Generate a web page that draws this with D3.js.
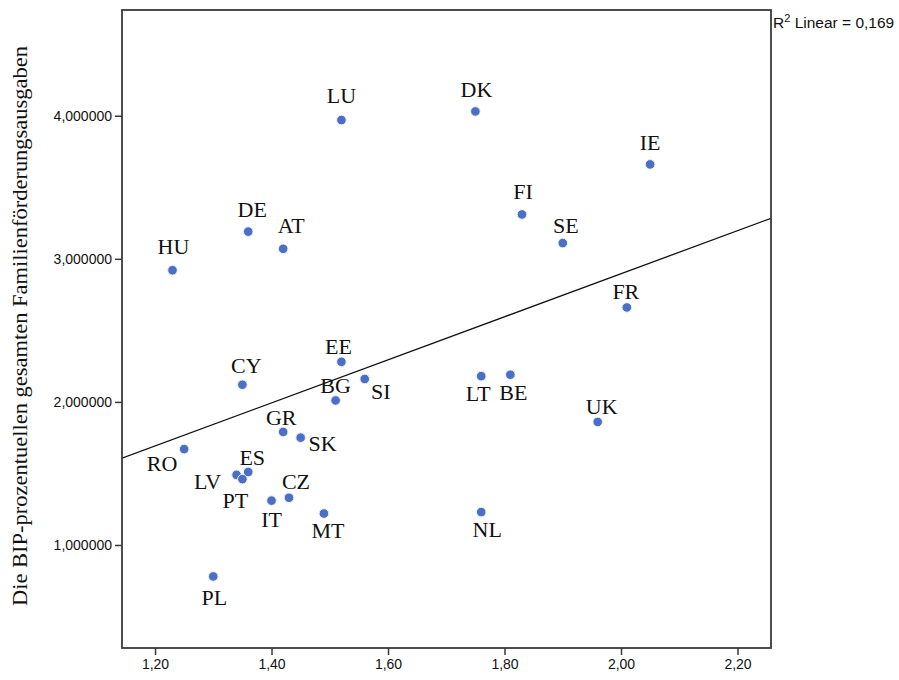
<!DOCTYPE html>
<html>
<head>
<meta charset="utf-8">
<script src="https://cdn.jsdelivr.net/npm/d3@7"></script>
<style>
  html, body { margin: 0; padding: 0; background: #fff; }
  svg { display: block; }
</style>
</head>
<body>
<svg id="chart" width="899" height="680"></svg>
<script>
// ---- data ----
const countries = ["LU","DK","IE","FI","SE","DE","AT","HU","FR","EE","CY","SI","BG","LT","BE","UK","GR","SK","RO","ES","LV","PT","CZ","IT","MT","NL","PL"];
const xValues = [1.52,1.75,2.05,1.83,1.90,1.36,1.42,1.23,2.01,1.52,1.35,1.56,1.51,1.76,1.81,1.96,1.42,1.45,1.25,1.36,1.34,1.35,1.43,1.40,1.49,1.76,1.30];
const yValues = [3.97,4.03,3.66,3.31,3.11,3.19,3.07,2.92,2.66,2.28,2.12,2.16,2.01,2.18,2.19,1.86,1.79,1.75,1.67,1.51,1.49,1.46,1.33,1.31,1.22,1.23,0.78];
const xTicks = [1.2,1.4,1.6,1.8,2.0,2.2];
const yTicks = [1,2,3,4];
const yTitle = "Die BIP-prozentuellen gesamten Familienförderungsausgaben";
const r2Text = "0,169";

// label placement (dx, dy of label baseline-centre relative to point)
const labelOffset = {
  LU:[0,-17], DK:[1,-14], IE:[0,-14], FI:[1,-15], SE:[3,-10], DE:[4,-15], AT:[8,-16],
  HU:[1,-16], FR:[-1,-8], EE:[-3,-8], CY:[4,-12], SI:[16,20], BG:[0,-7], LT:[-3,25],
  BE:[3,25], UK:[4,-8], GR:[-2,-7], SK:[22,13], RO:[-22,22], ES:[4,-7], LV:[-29,14],
  PT:[-7,29], CZ:[7,-9], IT:[0,26], MT:[4,24], NL:[6,25], PL:[1,29]
};

// ---- layout ----
const svg = d3.select("#chart");
const L = 122, R = 771, T = 10, B = 648;
const x = d3.scaleLinear().domain([1.1433, 2.2575]).range([L, R]);
const y = d3.scaleLinear().domain([0.28, 4.739]).range([B, T]);
const fmtX = v => d3.format(".2f")(v).replace(".", ",");
const fmtY = v => d3.format(".6f")(v).replace(".", ",");
const frameColor = "#3a3a3a";

// axes
const xAxis = d3.axisBottom(x).tickValues(xTicks).tickFormat(fmtX).tickSize(7).tickSizeOuter(0);
const yAxis = d3.axisLeft(y).tickValues(yTicks).tickFormat(fmtY).tickSize(7).tickSizeOuter(0);

const gx = svg.append("g").attr("transform", `translate(0,${B})`).call(xAxis);
gx.select(".domain").remove();
gx.selectAll("line").attr("stroke", frameColor).attr("stroke-width", 1.5);
gx.selectAll("text").attr("font-family", "Liberation Sans, Arial, sans-serif").attr("font-size", 14)
  .attr("fill", "#111").attr("dy", "0.75em").attr("y", 10);

const gy = svg.append("g").attr("transform", `translate(${L},0)`).call(yAxis);
gy.select(".domain").remove();
gy.selectAll("line").attr("stroke", frameColor).attr("stroke-width", 1.5);
gy.selectAll("text").attr("font-family", "Liberation Sans, Arial, sans-serif").attr("font-size", 14)
  .attr("fill", "#111").attr("x", -10);

// clip
svg.append("clipPath").attr("id", "plotclip").append("rect")
  .attr("x", L).attr("y", T).attr("width", R - L).attr("height", B - T);

// regression line (OLS from data)
const n = xValues.length;
const mx = d3.mean(xValues), my = d3.mean(yValues);
let sxy = 0, sxx = 0;
for (let i = 0; i < n; i++) { sxy += (xValues[i]-mx)*(yValues[i]-my); sxx += (xValues[i]-mx)**2; }
const slope = sxy / sxx, intercept = my - slope * mx;
const xd = x.domain();
svg.append("line")
  .attr("clip-path", "url(#plotclip)")
  .attr("x1", x(xd[0])).attr("y1", y(intercept + slope * xd[0]))
  .attr("x2", x(xd[1])).attr("y2", y(intercept + slope * xd[1]))
  .attr("stroke", "#111").attr("stroke-width", 1.3);

// points
const data = countries.map((c, i) => ({ c, x: xValues[i], y: yValues[i] }));
svg.append("g").selectAll("circle").data(data).join("circle")
  .attr("cx", d => x(d.x)).attr("cy", d => y(d.y)).attr("r", 4.8)
  .attr("fill", "#4a6fc4").attr("stroke", "#eef2fa").attr("stroke-width", 1);

// labels
svg.append("g").selectAll("text").data(data).join("text")
  .attr("x", d => x(d.x) + labelOffset[d.c][0])
  .attr("y", d => y(d.y) + labelOffset[d.c][1])
  .attr("text-anchor", "middle")
  .attr("font-family", "Liberation Serif, Times New Roman, serif")
  .attr("font-size", 22).attr("fill", "#111")
  .text(d => d.c);

// frame
svg.append("rect").attr("x", L).attr("y", T).attr("width", R - L).attr("height", B - T)
  .attr("fill", "none").attr("stroke", frameColor).attr("stroke-width", 1.8);

// y title
svg.append("text")
  .attr("transform", `translate(27,326) rotate(-90)`)
  .attr("text-anchor", "middle")
  .attr("font-family", "Liberation Serif, Times New Roman, serif")
  .attr("font-size", 21).attr("fill", "#111")
  .attr("textLength", 560).attr("lengthAdjust", "spacingAndGlyphs")
  .text(yTitle);

// R2 label
const r2 = svg.append("text").attr("x", 773).attr("y", 28)
  .attr("font-family", "Liberation Sans, Arial, sans-serif").attr("font-size", 15.5).attr("fill", "#111");
r2.append("tspan").text("R");
r2.append("tspan").attr("font-size", 11).attr("dy", -6).text("2");
r2.append("tspan").attr("dy", 6).text(" Linear = " + r2Text);
</script>
</body>
</html>
